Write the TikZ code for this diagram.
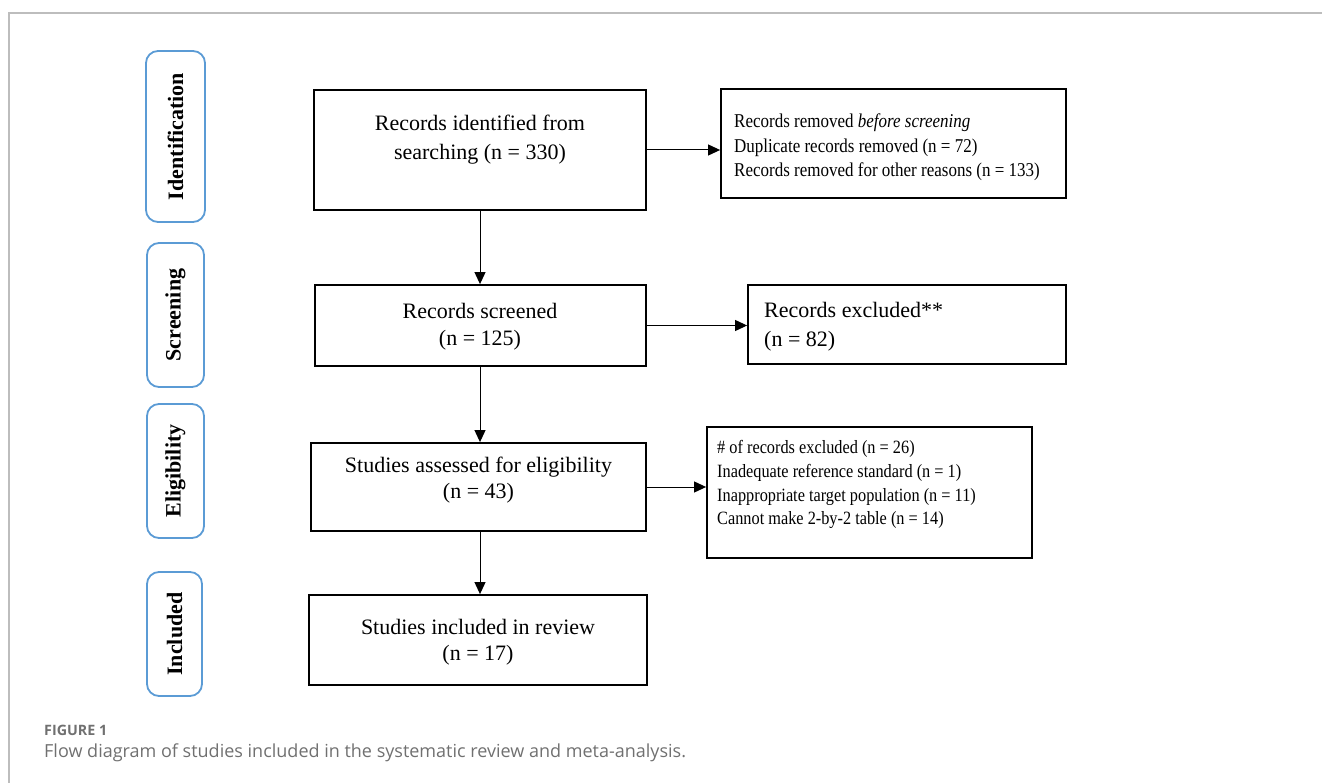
\documentclass[tikz,border=0pt]{standalone}
\usepackage{fontspec}
\usepackage{graphicx}
\setmainfont{Liberation Serif}
\newfontfamily\capfont{Open Sans}
\usetikzlibrary{arrows.meta}
\definecolor{pillblue}{HTML}{5B9BD5}
\definecolor{framegray}{HTML}{BDBDBD}
\definecolor{capgray}{HTML}{707070}
\newcommand{\tallrows}[1]{\scalebox{1}[1.15]{\begin{tabular}{@{}l@{}}#1\end{tabular}}}
\begin{document}
\begin{tikzpicture}[x=1pt,y=-1pt,
  box/.style={draw=black,line width=1.8pt,rectangle,inner sep=0pt,fill=white},
  pill/.style={draw=pillblue,line width=1.8pt,rectangle,rounded corners=12pt,inner sep=0pt},
  side/.style={font=\fontsize{22}{26}\selectfont\bfseries,rotate=90,inner sep=0pt},
  bigtxt/.style={font=\fontsize{22}{27}\selectfont,align=center,inner sep=0pt},
  smalltxt/.style={font=\fontsize{17}{21.3}\selectfont,anchor=west,inner sep=0pt},
  flow/.style={draw=black,line width=1pt,-{Triangle[length=12pt,width=11pt]}}
]
\useasboundingbox (0,0) rectangle (1322,783);
% frame
\draw[framegray,line width=1.5pt] (9,783) -- (9,13) -- (1322,13);

% side pills
\node[pill,minimum width=59pt,minimum height=171pt] (p1) at (175.5,136.5) {};
\node[side] (p1t) at (p1.center) {Identification};
\node[pill,minimum width=57pt,minimum height=144pt] (p2) at (175.5,315) {};
\node[side] (p2t) at (p2.center) {Screening};
\node[pill,minimum width=57pt,minimum height=134pt] (p3) at (175.5,471) {};
\node[side] (p3t) at (p3.center) {Eligibility};
\node[pill,minimum width=55pt,minimum height=124pt] (p4) at (174.5,634) {};
\node[side] (p4t) at (p4.center) {Included};

% main column boxes
\node[box,minimum width=332pt,minimum height=120pt] (b1) at (480,150) {};
\node[bigtxt,font=\fontsize{22}{29}\selectfont] (b1t) at (480,140) {Records identified from\\searching (n = 330)};
\node[box,minimum width=331pt,minimum height=81pt] (b2) at (480.5,325.5) {};
\node[bigtxt] (b2t) at (480,326.5) {Records screened\\(n = 125)};
\node[box,minimum width=335pt,minimum height=88pt] (b3) at (478.5,487) {};
\node[bigtxt,font=\fontsize{22}{26}\selectfont] (b3t) at (478.5,480) {Studies assessed for eligibility\\(n = 43)};
\node[box,minimum width=338pt,minimum height=90pt] (b4) at (478,640) {};
\node[bigtxt,font=\fontsize{22}{26}\selectfont] (b4t) at (478,642) {Studies included in review\\(n = 17)};

% right column boxes
\node[box,minimum width=345pt,minimum height=109pt] (r1) at (893.5,143.5) {};
\node[smalltxt] (r1t) at (734,147.5) {\tallrows{Records removed \textit{before screening}\\Duplicate records removed (n = 72)\\Records removed for other reasons (n = 133)}};
\node[box,minimum width=318pt,minimum height=79pt] (r2) at (907,324.5) {};
\node[smalltxt,font=\fontsize{22}{29}\selectfont,align=left] (r2t) at (764,327) {Records excluded**\\(n = 82)};
\node[box,minimum width=325pt,minimum height=131pt] (r3) at (869.5,492.5) {};
\node[smalltxt,font=\fontsize{16.3}{20.6}\selectfont] (r3t) at (717,484.5) {\tallrows{\# of records excluded (n = 26)\\Inadequate reference standard (n = 1)\\Inappropriate target population (n = 11)\\Cannot make 2-by-2 table (n = 14)}};

% connectors
\draw[flow] (b1.south -| 480,0) -- (b2.north -| 480,0);
\draw[flow] (b2.south -| 480,0) -- (b3.north -| 480,0);
\draw[flow] (b3.south -| 480,0) -- (b4.north -| 480,0);
\draw[flow] (b1.east) -- (b1.east -| r1.west);
\draw[flow] (b2.east) -- (b2.east -| r2.west);
\draw[flow] (b3.east) -- (b3.east -| r3.west);

% caption
\node[anchor=west,inner sep=0pt,text=capgray,font=\capfont\fontsize{14.3}{16}\selectfont\bfseries] (cap1) at (44,730) {FIGURE 1};
\node[anchor=west,inner sep=0pt,text=capgray,font=\capfont\fontsize{18}{21}\selectfont] (cap2) at (44,753) {Flow diagram of studies included in the systematic review and meta-analysis.};
\end{tikzpicture}
\end{document}
